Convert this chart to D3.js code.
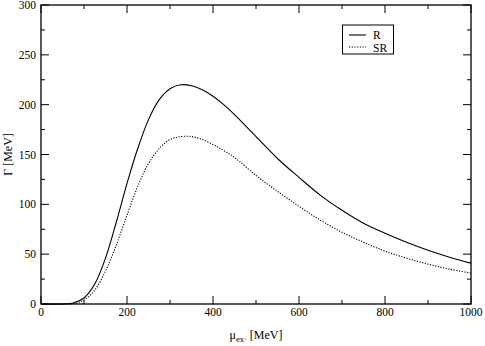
<!DOCTYPE html>
<html>
<head>
<meta charset="utf-8">
<script src="https://cdn.jsdelivr.net/npm/d3@7"></script>
<style>
  body { margin: 0; background: #fff; }
</style>
</head>
<body>
<script>
// energies (MeV) and widths
var mu = [0, 50, 75, 100, 125, 150, 175, 200, 225, 250, 275, 300, 325, 350, 375, 400,
          425, 450, 500, 550, 600, 650, 700, 750, 800, 850, 900, 950, 1000];
var gammaR = [0, 0, 1, 6, 20, 46, 82, 121, 156, 185, 205, 216, 220, 219, 215, 208.5,
              200, 190, 168, 146, 127, 109, 94, 81, 71, 62, 54, 47, 41];
var gammaSR = [0, 0, 0.5, 4, 14, 33, 59, 89, 118, 141, 156, 165, 168, 168, 165, 160,
               154, 147, 129, 113, 98, 84, 72, 62, 53, 46, 40, 35, 31];
var seriesNames = ["R", "SR"];
var xTicks = [0, 200, 400, 600, 800, 1000];
var yTicks = [0, 50, 100, 150, 200, 250, 300];

(function() {
    var W = 485, H = 346,
        m = {l: 41, r: 14, t: 5, b: 42},
        fs = 11.5,
        font = "Times, 'Times New Roman', 'Liberation Serif', 'DejaVu Serif', serif";

    var svg = d3.select("body").append("svg")
        .attr("width", W).attr("height", H)
        .style("font-family", font);

    var x = d3.scaleLinear().domain([0, 1000]).range([m.l, W - m.r]),
        y = d3.scaleLinear().domain([0, 300]).range([H - m.b, m.t]);

    var g = svg.append("g");

    // ticks, inward on all four sides
    function ticks(vals, len, minor) {
        vals.forEach(function(v) {
            g.append("line").attr("x1", x(v)).attr("x2", x(v))
                .attr("y1", y(0)).attr("y2", y(0) - len).attr("stroke", "#000");
            g.append("line").attr("x1", x(v)).attr("x2", x(v))
                .attr("y1", y(300)).attr("y2", y(300) + len).attr("stroke", "#000");
        });
        minor.forEach(function(v) {
            g.append("line").attr("y1", y(v)).attr("y2", y(v))
                .attr("x1", x(0)).attr("x2", x(0) + len).attr("stroke", "#000");
            g.append("line").attr("y1", y(v)).attr("y2", y(v))
                .attr("x1", x(1000)).attr("x2", x(1000) - len).attr("stroke", "#000");
        });
    }
    ticks(xTicks, 8, yTicks);
    ticks(d3.range(100, 1000, 200), 4, d3.range(25, 300, 50));

    g.append("rect")
        .attr("x", x(0)).attr("y", y(300))
        .attr("width", x(1000) - x(0)).attr("height", y(0) - y(300))
        .attr("fill", "none").attr("stroke", "#000").attr("stroke-width", 1.3);

    g.selectAll(".xl").data(xTicks).enter().append("text")
        .attr("x", function(d) { return x(d); })
        .attr("y", y(0) + 12)
        .attr("text-anchor", "middle")
        .style("font-size", fs + "px")
        .text(function(d) { return d; });

    g.selectAll(".yl").data(yTicks).enter().append("text")
        .attr("x", x(0) - 5)
        .attr("y", function(d) { return Math.max(y(d) + 4, 9); })
        .attr("text-anchor", "end")
        .style("font-size", fs + "px")
        .text(function(d) { return d; });

    // axis titles
    svg.append("text")
        .attr("transform", "translate(12," + ((y(0) + y(300)) / 2) + ") rotate(-90)")
        .attr("text-anchor", "middle")
        .style("font-size", "12px")
        .text("\u0393 [MeV]");

    var xt = svg.append("text")
        .attr("x", (x(0) + x(1000)) / 2)
        .attr("y", 339)
        .attr("text-anchor", "middle")
        .style("font-size", "12px");
    xt.append("tspan").text("\u03bc");
    xt.append("tspan").attr("dy", 3).style("font-size", "8.5px").text("ex\u00b7");
    xt.append("tspan").attr("dy", -3).text(" [MeV]");

    var line = d3.line()
        .x(function(d) { return x(d[0]); })
        .y(function(d) { return y(d[1]); })
        .curve(d3.curveCatmullRom.alpha(0.5));

    var styles = [{dash: null, w: 1.1}, {dash: "1.2,1.5", w: 1.1}];
    [gammaR, gammaSR].forEach(function(s, i) {
        g.append("path")
            .datum(mu.map(function(v, k) { return [v, s[k]]; }))
            .attr("d", line)
            .attr("fill", "none")
            .attr("stroke", "#000")
            .attr("stroke-width", styles[i].w)
            .attr("stroke-dasharray", styles[i].dash);
    });

    // legend
    var lg = svg.append("g");
    lg.append("rect").attr("x", 342.5).attr("y", 25).attr("width", 51).attr("height", 29)
        .attr("fill", "#fff").attr("stroke", "#000").attr("stroke-width", 1);
    seriesNames.forEach(function(n, i) {
        var yy = 35 + i * 12;
        lg.append("line").attr("x1", 349).attr("x2", 366)
            .attr("y1", yy).attr("y2", yy)
            .attr("stroke", "#000").attr("stroke-width", 1.1)
            .attr("stroke-dasharray", styles[i].dash);
        lg.append("text").attr("x", 373).attr("y", yy + 3.5 + i)
            .style("font-size", fs + "px").text(n);
    });
})();
</script>
</body>
</html>
